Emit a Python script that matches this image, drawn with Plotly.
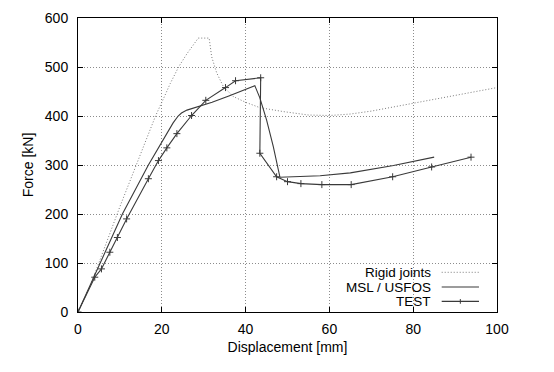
import plotly.graph_objects as go

# Rigid joints (dotted)
rigid_x = [0, 3, 10, 14, 18.5, 20.8, 22, 24, 26, 28.7, 31.3, 31.9, 33.1, 34.7, 37, 40, 43.4, 49, 55, 60, 65, 70, 80, 90, 100]
rigid_y = [0, 55, 215, 303, 400, 443, 466, 500, 527, 559, 559, 521, 488, 460, 440, 428, 417, 409, 402, 401, 404, 410, 426, 441, 458]

# MSL / USFOS (solid)
msl_x = [0, 5, 10.6, 16.8, 19.6, 21.4, 22.7, 23.9, 24.7, 26, 27.1, 29.5, 32, 36, 40, 42.2, 43.4, 45, 46.6, 48.2, 57.8, 65, 75.3, 85]
msl_y = [0, 95, 200, 300, 342, 369, 386, 400, 406, 412, 415, 420, 428, 441, 454, 462, 437, 392, 338, 275, 278, 284, 299, 316]

# TEST (solid with + markers)
test_x = [0, 4.0, 5.6, 7.6, 9.4, 11.6, 16.8, 19.2, 21.2, 23.6, 27.1, 30.5, 35.2, 37.6, 43.6, 43.4, 47.4, 50, 53.2, 58.2, 65.2, 75.1, 84.4, 93.8]
test_y = [0, 71, 88, 122, 152, 190, 272, 309, 335, 364, 401, 432, 458, 472, 478, 324, 276, 266, 262, 260, 260, 276, 296, 316]

legend_labels = ["Rigid joints", "MSL / USFOS", "TEST"]

x_ticks = [0, 20, 40, 60, 80, 100]
y_ticks = [0, 100, 200, 300, 400, 500, 600]

FONT = "Liberation Sans, Arial, Helvetica, sans-serif"
DARK = "#3a3a3a"
DOT = "#7a7a7a"
FINE_DOT = "1px,2px"

fig = go.Figure()
fig.add_trace(go.Scatter(x=rigid_x, y=rigid_y, mode="lines",
                         line=dict(color=DOT, width=1, dash=FINE_DOT), name=legend_labels[0]))
fig.add_trace(go.Scatter(x=msl_x, y=msl_y, mode="lines",
                         line=dict(color=DARK, width=1.1), name=legend_labels[1]))
fig.add_trace(go.Scatter(x=test_x, y=test_y, mode="lines+markers",
                         line=dict(color=DARK, width=1.1),
                         marker=dict(symbol="cross-thin", size=5, line=dict(color=DARK, width=1)),
                         name=legend_labels[2]))

axis_common = dict(
    showline=True, linecolor="black", linewidth=1, mirror="ticks",
    ticks="inside", ticklen=5, tickcolor="black", tickwidth=1,
    showgrid=True, gridcolor="#8c8c8c", griddash=FINE_DOT, gridwidth=1,
    zeroline=False, automargin=False,
    tickfont=dict(family=FONT, size=14, color="black"),
)

fig.update_xaxes(range=[0, 100], tickvals=x_ticks, ticklabelstandoff=4,
                 title=dict(text="Displacement [mm]", font=dict(family=FONT, size=14, color="black"), standoff=6),
                 **axis_common)
fig.update_yaxes(range=[0, 600], tickvals=y_ticks, ticklabelstandoff=6,
                 title=dict(text="Force [kN]", font=dict(family=FONT, size=14, color="black"), standoff=7),
                 **axis_common)

# custom legend: right-aligned text with sample on the right (gnuplot style)
rows_y = [0.135, 0.085, 0.036]
styles = [dict(color=DOT, width=1, dash=FINE_DOT), dict(color=DARK, width=1.1), dict(color=DARK, width=1.1)]
x0s, x1s = 0.868, 0.957
for lab, yy, st in zip(legend_labels, rows_y, styles):
    fig.add_annotation(xref="paper", yref="paper", x=0.844, y=yy, text=lab, showarrow=False,
                       xanchor="right", yanchor="middle", borderpad=0,
                       font=dict(family=FONT, size=13.5, color="black"))
    fig.add_shape(type="line", xref="paper", yref="paper", x0=x0s, x1=x1s, y0=yy, y1=yy, line=st)
xm = (x0s + x1s) / 2
fig.add_shape(type="line", xref="paper", yref="paper", x0=xm, x1=xm, y0=rows_y[2] - 0.008, y1=rows_y[2] + 0.008,
              line=dict(color=DARK, width=1))

# page body has an 8px offset; compensate in margins so the plot area lands where the reference has it
fig.update_layout(
    width=546, height=364,
    margin=dict(l=70, r=57, t=10, b=60),
    paper_bgcolor="white", plot_bgcolor="white",
    showlegend=False,
    font=dict(family=FONT, size=14, color="black"),
)

fig.write_html("out.html")
